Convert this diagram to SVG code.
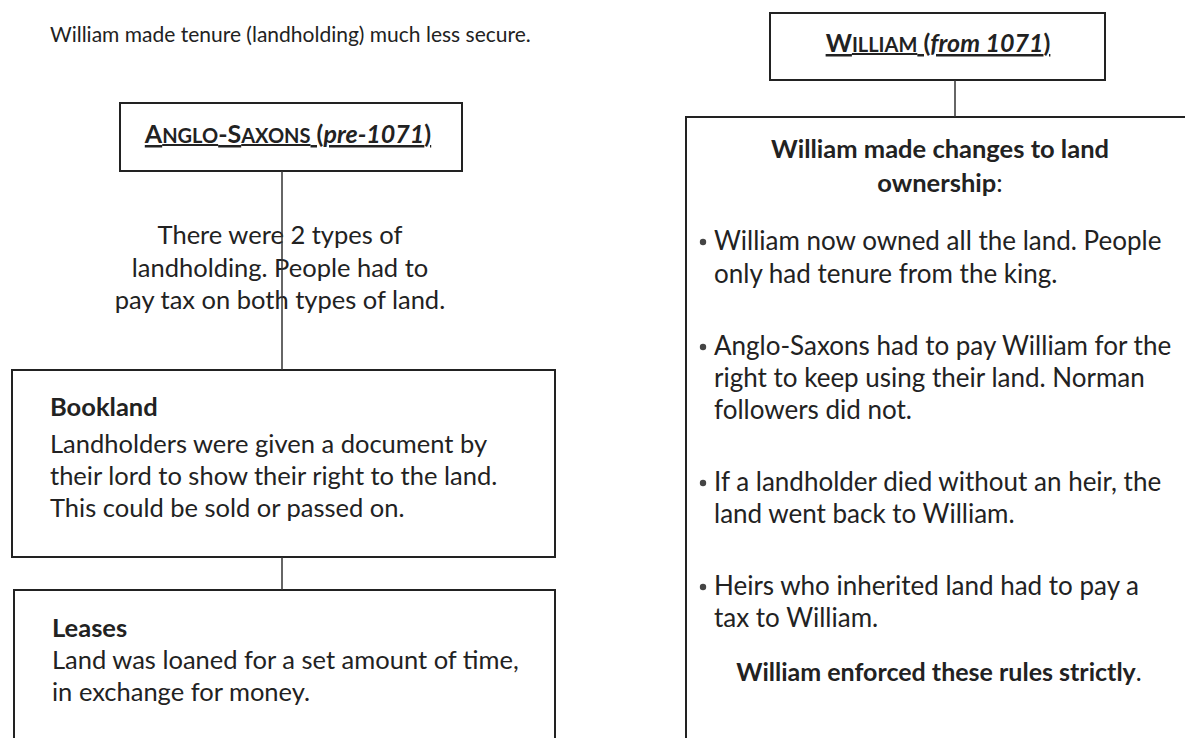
<svg xmlns="http://www.w3.org/2000/svg" width="1185" height="738" viewBox="0 0 1185 738">
<style>
text{font-family:Lato,"Open Sans","Liberation Sans",sans-serif;fill:#222;font-size:25.5px}
.r text{font-size:26px}
.box{fill:#fff;stroke:#222;stroke-width:2}
.con{stroke:#333;stroke-width:1.5;fill:none}
.b{font-weight:bold}
.sc{font-size:20px}
.i{font-style:italic}
.m{text-anchor:middle}
.hd{font-weight:bold;text-decoration:underline;font-size:25px}
</style>
<rect width="1185" height="738" fill="#fff"/>
<text id="title" x="50" y="42" style="font-size:21px">William made tenure (landholding) much less secure.</text>
<g id="william">
<rect class="box" x="770" y="13" width="335" height="67"/>
<text class="hd m" x="938" y="52">W<tspan class="sc">ILLIAM</tspan> (<tspan class="i">from 1071</tspan>)</text>
</g>
<g id="anglo">
<rect class="box" x="120" y="103" width="342" height="68"/>
<text class="hd m" x="288" y="143">A<tspan class="sc">NGLO</tspan>-S<tspan class="sc">AXONS</tspan> (<tspan class="i">pre-1071</tspan>)</text>
</g>
<g id="types">
<text class="m" x="280" y="244">There were 2 types of</text>
<text class="m" x="280" y="277">landholding. People had to</text>
<text class="m" x="280" y="309">pay tax on both types of land.</text>
</g>
<g id="bookland">
<rect class="box" x="12" y="370" width="543" height="187"/>
<text class="b" x="50" y="416">Bookland</text>
<text x="50" y="453">Landholders were given a document by</text>
<text x="50" y="485">their lord to show their right to the land.</text>
<text x="50" y="517">This could be sold or passed on.</text>
</g>
<g id="leases">
<rect class="box" x="14" y="590" width="541" height="170"/>
<text class="b" x="52" y="637">Leases</text>
<text x="52" y="669">Land was loaned for a set amount of time,</text>
<text x="52" y="701">in exchange for money.</text>
</g>
<g id="changes" class="r">
<rect class="box" x="686" y="117" width="520" height="640"/>
<text class="b m" x="940" y="158" style="font-size:25.5px">William made changes to land</text>
<text class="m" x="940" y="192" style="font-size:25.5px"><tspan class="b">ownership</tspan>:</text>
<circle cx="703" cy="242" r="3.2" fill="#444"/>
<text x="714" y="250">William now owned all the land. People</text>
<text x="714" y="283">only had tenure from the king.</text>
<circle cx="703" cy="347" r="3.2" fill="#444"/>
<text x="714" y="355">Anglo-Saxons had to pay William for the</text>
<text x="714" y="387">right to keep using their land. Norman</text>
<text x="714" y="419">followers did not.</text>
<circle cx="703" cy="483" r="3.2" fill="#444"/>
<text x="714" y="491">If a landholder died without an heir, the</text>
<text x="714" y="523">land went back to William.</text>
<circle cx="703" cy="587" r="3.2" fill="#444"/>
<text x="714" y="595">Heirs who inherited land had to pay a</text>
<text x="714" y="627">tax to William.</text>
<text class="m" x="939" y="681" style="font-size:25px"><tspan class="b">William enforced these rules strictly</tspan>.</text>
</g>
<g id="connectors">
<line class="con" x1="955" y1="80" x2="955" y2="117"/>
<line class="con" x1="282" y1="171" x2="282" y2="370"/>
<line class="con" x1="282" y1="557" x2="282" y2="590"/>
</g>
</svg>
